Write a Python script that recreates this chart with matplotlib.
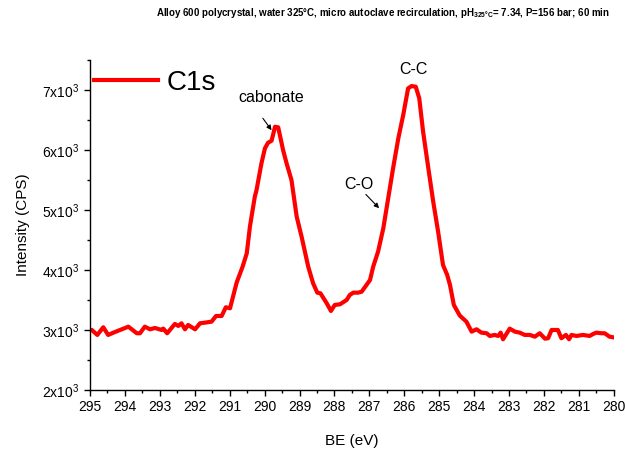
import numpy as np
import matplotlib
matplotlib.use("Agg")
import matplotlib.pyplot as plt
from matplotlib.ticker import MultipleLocator, FuncFormatter

plt.rcParams["font.family"] = ["Liberation Sans", "DejaVu Sans"]
plt.rcParams["mathtext.fontset"] = "custom"
plt.rcParams["mathtext.rm"] = "Liberation Sans"
plt.rcParams["mathtext.default"] = "regular"

# binding energy (eV) and intensity (CPS)
be = [295.00, 294.95, 294.79, 294.62, 294.48, 294.33, 294.09, 293.90, 293.66, 293.57,
      293.43, 293.28, 293.14, 292.95, 292.90, 292.79, 292.57, 292.47, 292.38, 292.28,
      292.19, 291.99, 291.85, 291.71, 291.52, 291.39, 291.23, 291.11, 290.99, 290.80,
      290.63, 290.51, 290.42, 290.28, 290.23, 290.09, 289.99, 289.90, 289.80, 289.70,
      289.61, 289.47, 289.37, 289.23, 289.08, 288.94, 288.75, 288.61, 288.49, 288.40,
      288.22, 288.10, 287.99, 287.84, 287.65, 287.56, 287.46, 287.32, 287.22, 286.98,
      286.89, 286.75, 286.60, 286.46, 286.32, 286.17, 286.03, 285.89, 285.79, 285.67,
      285.57, 285.46, 285.31, 285.17, 285.03, 284.89, 284.77, 284.69, 284.58, 284.41,
      284.22, 284.07, 283.93, 283.79, 283.64, 283.55, 283.41, 283.31, 283.24, 283.17,
      282.98, 282.83, 282.69, 282.55, 282.40, 282.26, 282.12, 281.97, 281.88, 281.78,
      281.60, 281.50, 281.37, 281.28, 281.21, 281.07, 280.88, 280.69, 280.59, 280.50,
      280.35, 280.26, 280.12, 280.02]
cps = [3000, 3000, 2917, 3045, 2917, 2955, 3011, 3055, 2945, 2945,
       3055, 3011, 3033, 3000, 3022, 2945, 3100, 3067, 3111, 3011,
       3083, 3011, 3111, 3122, 3138, 3233, 3233, 3378, 3361, 3790,
       4055, 4278, 4722, 5222, 5333, 5778, 6028, 6122, 6155, 6388,
       6378, 6000, 5778, 5500, 4888, 4555, 4055, 3778, 3622, 3611,
       3445, 3317, 3417, 3428, 3500, 3583, 3622, 3622, 3638, 3833,
       4055, 4305, 4695, 5195, 5695, 6195, 6583, 7028, 7067, 7055,
       6862, 6305, 5695, 5138, 4638, 4083, 3917, 3750, 3417, 3240,
       3138, 2972, 3011, 2955, 2945, 2900, 2917, 2900, 2955, 2845,
       3022, 2972, 2955, 2917, 2917, 2888, 2945, 2855, 2862, 3000,
       3000, 2862, 2917, 2845, 2917, 2900, 2917, 2900, 2933, 2955,
       2945, 2945, 2888, 2878]

title = ("Alloy 600 polycrystal, water 325°C, micro autoclave recirculation, "
         "pH$_{325°C}$= 7.34, P=156 bar; 60 min")

fig = plt.figure(figsize=(6.25, 4.55), dpi=100)
ax = fig.add_axes([0.144, 0.143, 0.838, 0.725])

ax.plot(be, cps, color="#ff0000", lw=3.0, label="C1s", solid_joinstyle="round")
ax.set_xlim(295, 280)
ax.set_ylim(2000, 7500)

ax.xaxis.set_major_locator(MultipleLocator(1))
ax.xaxis.set_minor_locator(MultipleLocator(0.5))
ax.yaxis.set_major_locator(MultipleLocator(1000))
ax.yaxis.set_minor_locator(MultipleLocator(500))
ax.yaxis.set_major_formatter(FuncFormatter(lambda v, p: f"{v/1000:.0f}x10$^3$"))
ax.tick_params(which="major", direction="out", length=4, width=1, labelsize=10)
ax.tick_params(which="minor", direction="out", length=2.5, width=1)
for s in ("top", "right"):
    ax.spines[s].set_visible(False)
for s in ("left", "bottom"):
    ax.spines[s].set_linewidth(1.0)

ax.set_xlabel("BE (eV)", fontsize=11, labelpad=14)
ax.set_ylabel("Intensity (CPS)", fontsize=11, labelpad=9)

ax.legend(loc="upper left", bbox_to_anchor=(-0.04, 1.045), frameon=False,
          fontsize=20, handlelength=2.3, handletextpad=0.3)

ax.text(289.8, 6880, "cabonate", fontsize=11.5, ha="center", va="center")
ax.annotate("", xy=(289.8, 6330), xytext=(290.05, 6530),
            arrowprops=dict(arrowstyle="-|>", color="black", lw=0.8,
                            mutation_scale=7, shrinkA=0, shrinkB=0))
ax.text(285.75, 7350, "C-C", fontsize=11.5, ha="center", va="center")
ax.text(287.3, 5430, "C-O", fontsize=11.5, ha="center", va="center")
ax.annotate("", xy=(286.72, 5030), xytext=(287.1, 5260),
            arrowprops=dict(arrowstyle="-|>", color="black", lw=0.8,
                            mutation_scale=7, shrinkA=0, shrinkB=0))

fig.text(0.612, 0.972, title, fontsize=7, fontweight="bold", ha="center", va="center")

fig.savefig("out.png", dpi=100)
